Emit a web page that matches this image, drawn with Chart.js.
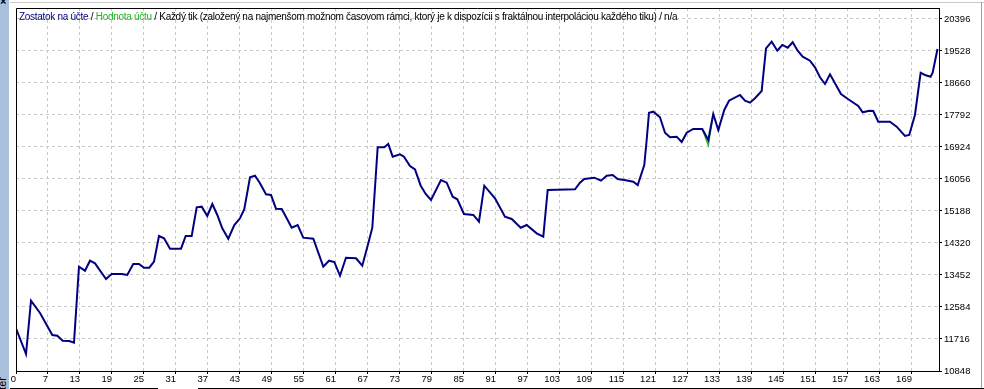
<!DOCTYPE html>
<html>
<head>
<meta charset="utf-8">
<script src="https://cdn.jsdelivr.net/npm/chart.js@4/dist/chart.umd.min.js"></script>
<style>
    html, body { margin: 0; padding: 0; background: #fff; }
    #wrap { position: relative; width: 984px; height: 389px; overflow: hidden; background: #fff; }
    #side { position: absolute; left: 0; top: 0; width: 9px; height: 389px; background: #a9c0dc; overflow: hidden; }
    #side span { position: absolute; left: -13px; top: 386px; font: 11px 'Liberation Sans', sans-serif; color: #000; transform: rotate(-90deg); transform-origin: center; white-space: nowrap; }
    #close { position: absolute; left: 0; top: -5px; font: bold 11px 'Liberation Sans', sans-serif; }
    #topline { position: absolute; left: 10px; right: 0; top: 2px; height: 1px; background: #c8c8c8; }
    #rightline { position: absolute; right: 2px; top: 2px; bottom: 0; width: 1px; background: #a0a0a0; }
    #tab1 { position: absolute; left: 10px; width: 148px; top: 388px; height: 1px; background: #000; }
    #tab2 { position: absolute; left: 198px; right: 0; top: 388px; height: 1px; background: #000; }
    #chartBox { position: absolute; left: 0; top: 0; width: 984px; height: 389px; }
    #title { position: absolute; left: 19px; top: 11px; font: 10px 'Liberation Sans', sans-serif; letter-spacing: -0.29px; line-height: 12px; color: #000; white-space: nowrap; }
    #title .bal { color: #000080; }
    #title .eq { color: #22b422; }
</style>
</head>
<body>
<div id="wrap">
    <div id="topline"></div>
    <div id="rightline"></div>
    <div id="chartBox"><canvas id="tester"></canvas></div>
    <div id="side"><span>Tester</span></div>
    <div id="close">×</div>
    <div id="tab1"></div>
    <div id="tab2"></div>
    <div id="title"><span class="bal">Zostatok na účte</span> / <span class="eq">Hodnota účtu</span> / Každý tik (založený na najmenšom možnom časovom rámci, ktorý je k dispozícii s fraktálnou interpoláciou každého tiku) / n/a</div>
</div>
<script>
// tick labels as printed by the tester
const xTickLabels = [0, 7, 13, 19, 25, 31, 37, 43, 49, 55, 61, 67, 73, 79, 85, 91, 97, 103, 109, 115, 121, 127, 133, 139, 145, 151, 157, 163, 169];
const yTickLabels = [10848, 11716, 12584, 13452, 14320, 15188, 16056, 16924, 17792, 18660, 19528, 20396];
const xMax = 174.1;
const yMax = 20694;

// balance curve (trade no. / balance)
const balanceX = [0, 1.89, 2.83, 4.53, 6.85, 7.79, 8.81, 10.05, 10.94, 11.88, 13.01, 13.96, 14.90, 16.98, 18.05, 19.94, 20.99, 22.12, 23.20, 24.14,
    25.14, 26.03, 26.97, 27.92, 29.05, 31.12, 32.01, 33.14, 34.08, 35.03, 36.08, 37.03, 37.97, 38.91, 40.04, 41.18, 42.25, 43.06, 44.14, 45.08,
    46.02, 47.16, 48.10, 49.04, 50.12, 51.06, 52.00, 53.13, 54.19, 56.08, 57.96, 59.04, 60.04, 61.11, 62.24, 64.13, 65.32, 66.45, 67.21, 68.22,
    69.47, 70.22, 71.05, 72.43, 73.18, 74.32, 75.26, 76.34, 77.28, 78.28, 80.16, 81.24, 82.37, 83.24, 84.50, 86.26, 87.33, 88.33, 90.35, 92.23,
    93.50, 95.20, 96.33, 98.21, 99.46, 100.29, 105.44, 106.38, 107.19, 109.08, 110.34, 111.42, 112.55, 113.49, 114.74, 116.43, 117.27, 118.51, 118.96, 119.40,
    120.21, 121.47, 122.42, 123.36, 124.62, 125.56, 126.51, 127.75, 129.45, 130.58, 131.52, 132.47, 133.60, 134.49, 136.56, 137.51, 138.45, 139.39, 140.65, 141.47,
    142.54, 143.60, 144.54, 145.56, 146.50, 147.44, 148.39, 149.76, 150.71, 151.65, 152.60, 153.54, 154.48, 155.61, 156.99, 158.87, 159.70, 160.95, 161.70, 162.64,
    164.85, 166.11, 167.68, 168.49, 169.56, 170.64, 171.45, 172.52, 172.90, 173.82];
const balanceY = [12006, 11309, 12755, 12421, 11825, 11806, 11670, 11662, 11616, 13677, 13569, 13840, 13769, 13344, 13479, 13479, 13452, 13750, 13750, 13650,
    13650, 13813, 14510, 14448, 14165, 14165, 14510, 14510, 15288, 15305, 15052, 15378, 15080, 14719, 14437, 14808, 14990, 15234, 16102, 16146,
    15939, 15641, 15622, 15250, 15242, 14990, 14735, 14808, 14464, 14437, 13677, 13840, 13805, 13433, 13921, 13905, 13704, 14312, 14735, 16916,
    16916, 17005, 16661, 16726, 16661, 16409, 16319, 15874, 15649, 15486, 16029, 15956, 15576, 15505, 15107, 15080, 14898, 15874, 15533, 15033,
    14971, 14735, 14808, 14583, 14491, 15758, 15777, 15956, 16056, 16091, 16010, 16146, 16165, 16056, 16029, 15983, 15893, 16436, 17114, 17854,
    17881, 17730, 17312, 17187, 17204, 17060, 17312, 17412, 17412, 17114, 17819, 17385, 17928, 18180, 18335, 18180, 18126, 18245, 18443, 19601,
    19780, 19536, 19691, 19618, 19764, 19536, 19373, 19265, 19086, 18815, 18633, 18896, 18652, 18362, 18218, 18036, 17865, 17909, 17901, 17610,
    17610, 17475, 17222, 17249, 17792, 18939, 18877, 18831, 18939, 19582];

// equity only shows where it leaves the balance line
const equityX = [129.45, 130.58, 131.52];
const equityY = [17412, 16978, 17819];

const pts = (xs, ys) => xs.map((x, i) => ({ x: x, y: ys[i] }));

const frame = {
    id: 'frame',
    afterDraw(chart) {
        const { ctx, chartArea: a } = chart;
        ctx.save();
        ctx.strokeStyle = '#000';
        ctx.lineWidth = 1;
        ctx.beginPath();
        ctx.moveTo(a.left + 0.5, a.bottom);
        ctx.lineTo(a.left + 0.5, a.top + 0.5);
        ctx.lineTo(a.right, a.top + 0.5);
        ctx.stroke();
        ctx.restore();
    }
};

const tickFont = { family: 'Liberation Sans', size: 9.5 };

new Chart(document.getElementById('tester'), {
    type: 'line',
    data: {
        datasets: [
            { data: pts(balanceX, balanceY), borderColor: '#000080', borderWidth: 2, order: 1 },
            { data: pts(equityX, equityY), borderColor: '#22b422', borderWidth: 1.5, order: 2 }
        ]
    },
    options: {
        responsive: true,
        maintainAspectRatio: false,
        animation: false,
        layout: { padding: { left: 16, top: 8, right: 0, bottom: 0 } },
        elements: { point: { radius: 0 }, line: { tension: 0 } },
        plugins: { legend: { display: false }, tooltip: { enabled: false } },
        scales: {
            x: {
                type: 'linear',
                min: 0,
                max: xMax,
                afterBuildTicks: (s) => {
                    const last = xTickLabels[xTickLabels.length - 1];
                    s.ticks = xTickLabels.map((v, i) => ({ value: i * last / (xTickLabels.length - 1) }));
                },
                afterFit: (s) => { s.height = 18; },
                ticks: {
                    callback: (v, i) => xTickLabels[i],
                    color: '#000', font: tickFont, align: 'end', maxRotation: 0, autoSkip: false, padding: 0
                },
                grid: { color: '#c8c8c8', tickColor: '#000', tickLength: 3, tickBorderDash: [] },
                border: { color: '#000', width: 1, dash: [3, 3] }
            },
            y: {
                position: 'right',
                min: yTickLabels[0],
                max: yMax,
                afterBuildTicks: (s) => { s.ticks = yTickLabels.map(v => ({ value: v })); },
                afterFit: (s) => { s.width = 45; },
                ticks: { callback: (v) => String(v), color: '#000', font: tickFont, padding: 2 },
                grid: { color: '#c8c8c8', tickColor: '#000', tickLength: 3, tickBorderDash: [] },
                border: { color: '#000', width: 1, dash: [3, 3] }
            }
        }
    },
    plugins: [frame]
});
</script>
</body>
</html>
